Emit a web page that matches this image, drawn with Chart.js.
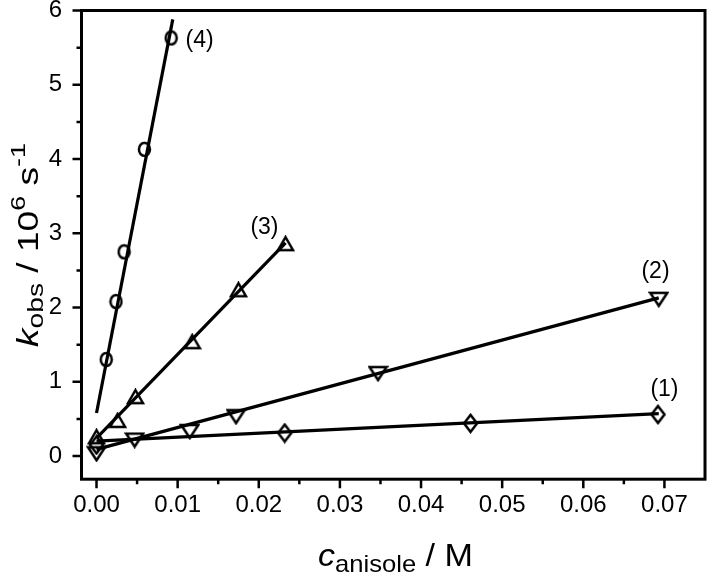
<!DOCTYPE html>
<html>
<head>
<meta charset="utf-8">
<script src="https://cdn.jsdelivr.net/npm/chart.js@4.4.0/dist/chart.umd.min.js"></script>
<style>
html, body { margin: 0; padding: 0; background: #fff; overflow: hidden; }
canvas { display: block; }
</style>
</head>
<body>
<canvas id="kobs-graph" width="714" height="574"></canvas>
<script>
// 測定点 (c_anisole / M, k_obs / 10^6 s^-1)
const x1 = [0, 0.0232, 0.0461, 0.0692];
const y1 = [0.15, 0.31, 0.44, 0.56];
const x2 = [0, 0.0047, 0.0115, 0.0172, 0.0347, 0.0693];
const y2 = [0.03, 0.215, 0.33, 0.53, 1.11, 2.11];
const x3 = [0, 0.0026, 0.0048, 0.0118, 0.0175, 0.0233];
const y3 = [0.26, 0.48, 0.80, 1.54, 2.24, 2.86];
const x4 = [0.0012, 0.0024, 0.0034, 0.0059, 0.0092];
const y4 = [1.30, 2.08, 2.75, 4.13, 5.63];

// 直線フィット (両端)
const fitX1 = [0, 0.0693], fitY1 = [0.20, 0.57];
const fitX2 = [0, 0.0693], fitY2 = [0.09, 2.13];
const fitX3 = [0, 0.0233], fitY3 = [0.24, 2.87];
const fitX4 = [0, 0.0094], fitY4 = [0.58, 5.88];

// 系列ラベル
const seriesLabels = ['(1)', '(2)', '(3)', '(4)'];
const labelX = [0.0700, 0.0689, 0.0207, 0.0127];
const labelY = [0.90, 2.48, 3.07, 5.59];

const toPts = (xs, ys) => xs.map((x, i) => ({ x: x, y: ys[i] }));

// マーカー (中抜き)
function marker(kind, w, h) {
    const c = document.createElement('canvas');
    c.width = w + 4; c.height = h + 4;
    const g = c.getContext('2d');
    g.strokeStyle = '#000';
    g.lineWidth = 2.5;
    g.beginPath();
    const l = 2, t = 2, r = w + 2, b = h + 2, cx = c.width / 2, cy = c.height / 2;
    if (kind === 'diamond') {
        g.moveTo(cx, t); g.lineTo(r, cy); g.lineTo(cx, b); g.lineTo(l, cy); g.closePath();
    } else if (kind === 'down') {
        g.moveTo(l, t); g.lineTo(r, t); g.lineTo(cx, b); g.closePath();
    } else if (kind === 'up') {
        g.moveTo(cx, t); g.lineTo(r, b); g.lineTo(l, b); g.closePath();
    } else {
        g.ellipse(cx, cy, w / 2, h / 2, 0, 0, Math.PI * 2);
    }
    g.stroke();
    return c;
}

function fitSet(xs, ys) {
    return {
        data: toPts(xs, ys), showLine: true, pointRadius: 0,
        borderColor: '#000', borderWidth: 3.2, fill: false
    };
}
function pointSet(xs, ys, style) {
    return {
        data: toPts(xs, ys), showLine: false, pointStyle: style,
        pointRadius: 8, borderColor: '#000', backgroundColor: 'rgba(0,0,0,0)'
    };
}

const FONT = "'Liberation Sans', Arial, sans-serif";

// 上付き・下付きのある文字列
function richText(ctx, parts, width) {
    let total = 0;
    parts.forEach(p => { ctx.font = p.font; total += ctx.measureText(p.text).width; });
    const s = width / total;
    ctx.save();
    ctx.scale(s, 1);
    let x = 0;
    parts.forEach(p => {
        ctx.font = p.font;
        ctx.fillText(p.text, x, p.dy || 0);
        x += ctx.measureText(p.text).width;
    });
    ctx.restore();
}

const decorations = {
    id: 'decorations',
    afterDraw(chart) {
        const ctx = chart.ctx;
        const a = chart.chartArea;
        const xs = chart.scales.x, ys = chart.scales.y;
        ctx.save();
        ctx.strokeStyle = '#000';
        ctx.fillStyle = '#000';
        ctx.lineWidth = 3;
        ctx.strokeRect(a.left, a.top, a.right - a.left, a.bottom - a.top);

        // 目盛り (主・副)
        ctx.lineWidth = 2.5;
        const xt = xs.ticks.map(t => t.value);
        const yt = ys.ticks.map(t => t.value);
        ctx.beginPath();
        xt.forEach((v, i) => {
            const p = xs.getPixelForValue(v);
            ctx.moveTo(p, a.bottom); ctx.lineTo(p, a.bottom + 9);
            if (i < xt.length - 1) {
                const m = xs.getPixelForValue((v + xt[i + 1]) / 2);
                ctx.moveTo(m, a.bottom); ctx.lineTo(m, a.bottom + 5);
            }
        });
        yt.forEach((v, i) => {
            const p = ys.getPixelForValue(v);
            ctx.moveTo(a.left, p); ctx.lineTo(a.left - 9, p);
            if (i < yt.length - 1) {
                const m = ys.getPixelForValue((v + yt[i + 1]) / 2);
                ctx.moveTo(a.left, m); ctx.lineTo(a.left - 5, m);
            }
        });
        ctx.stroke();

        // 系列ラベル
        ctx.font = '23px ' + FONT;
        ctx.textAlign = 'center';
        ctx.textBaseline = 'middle';
        seriesLabels.forEach((t, i) => {
            ctx.fillText(t, xs.getPixelForValue(labelX[i]), ys.getPixelForValue(labelY[i]));
        });

        // 軸タイトル
        ctx.textAlign = 'left';
        ctx.textBaseline = 'alphabetic';
        ctx.save();
        ctx.translate(318, 566);
        richText(ctx, [
            { text: 'c', font: 'italic 32px ' + FONT },
            { text: 'anisole', font: '24px ' + FONT, dy: 6 },
            { text: ' / M', font: '32px ' + FONT }
        ], 155);
        ctx.restore();

        ctx.save();
        ctx.translate(38, 347);
        ctx.rotate(-Math.PI / 2);
        richText(ctx, [
            { text: 'k', font: 'italic 29px ' + FONT },
            { text: 'obs', font: '22px ' + FONT, dy: 5 },
            { text: ' / 10', font: '29px ' + FONT },
            { text: '6', font: '21px ' + FONT, dy: -13 },
            { text: ' s', font: '29px ' + FONT },
            { text: '-1', font: '21px ' + FONT, dy: -13 }
        ], 204);
        ctx.restore();
        ctx.restore();
    }
};

const ctx = document.getElementById('kobs-graph').getContext('2d');
new Chart(ctx, {
    type: 'scatter',
    data: {
        datasets: [
            fitSet(fitX1, fitY1),
            fitSet(fitX2, fitY2),
            fitSet(fitX3, fitY3),
            fitSet(fitX4, fitY4),
            pointSet(x1, y1, marker('diamond', 13, 17)),
            pointSet(x2, y2, marker('down', 17, 13)),
            pointSet(x3, y3, marker('up', 15, 13)),
            pointSet(x4, y4, marker('circle', 11, 13))
        ]
    },
    options: {
        responsive: false,
        animation: false,
        layout: { padding: { left: 0, top: 10.5, right: 2.3, bottom: 0 } },
        scales: {
            x: {
                type: 'linear',
                min: -0.00185,
                max: 0.075,
                afterFit: s => {
                    s.height = 94.8;
                    s.paddingLeft = 0; s.paddingRight = 0;
                    s.paddingTop = 0; s.paddingBottom = 0;
                },
                grid: { display: false, drawTicks: false },
                border: { display: false },
                ticks: {
                    stepSize: 0.01,
                    includeBounds: false,
                    padding: 12,
                    color: '#000',
                    font: { family: FONT, size: 24 },
                    callback: v => v.toFixed(2)
                }
            },
            y: {
                type: 'linear',
                min: -0.312,
                max: 6,
                afterFit: s => {
                    s.width = 81.5;
                    s.paddingLeft = 0; s.paddingRight = 0;
                    s.paddingTop = 0; s.paddingBottom = 0;
                },
                grid: { display: false, drawTicks: false },
                border: { display: false },
                ticks: {
                    stepSize: 1,
                    includeBounds: false,
                    padding: 19.5,
                    color: '#000',
                    font: { family: FONT, size: 24 },
                    callback: v => v
                }
            }
        },
        plugins: {
            legend: { display: false },
            tooltip: { enabled: false }
        }
    },
    plugins: [decorations]
});
</script>
</body>
</html>
